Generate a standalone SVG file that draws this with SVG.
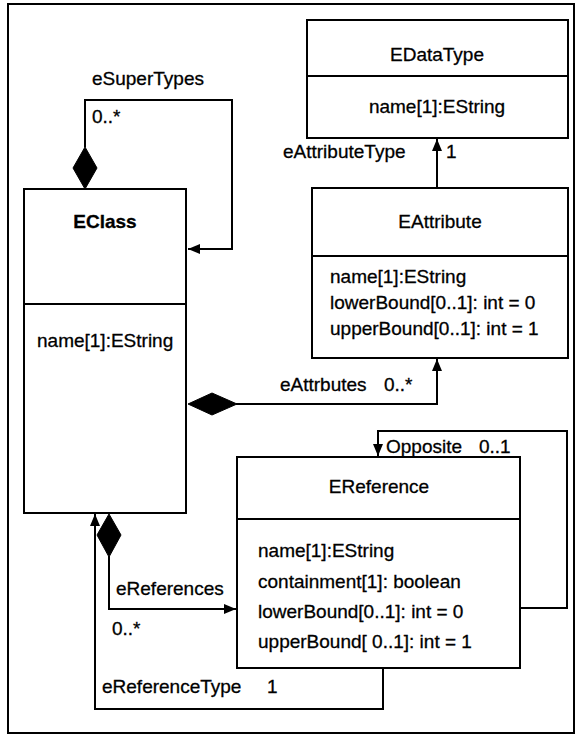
<svg xmlns="http://www.w3.org/2000/svg" width="583" height="736" viewBox="0 0 583 736">
<style>
.box{fill:#fff;stroke:#000;stroke-width:2}
.ln{fill:none;stroke:#000;stroke-width:2}
text{font-family:"Liberation Sans",Arial,sans-serif;font-size:19px;fill:#000;stroke:#000;stroke-width:0.3}
.t{text-anchor:middle}
.b{font-weight:bold}
.fill{fill:#000;stroke:#000;stroke-width:1}
</style>
<defs>
<marker id="arr" viewBox="0 0 12 10" refX="12" refY="5" markerWidth="12" markerHeight="10" markerUnits="userSpaceOnUse" orient="auto">
<path d="M0,0 L12,5 L0,10 Z" fill="#000"/>
</marker>
</defs>
<rect x="8" y="4" width="566" height="729" fill="#fff" stroke="#000" stroke-width="2"/>
<g id="EClass">
<rect class="box" x="24" y="189" width="162" height="324"/>
<line class="ln" x1="24" y1="304" x2="186" y2="304"/>
<text class="t b" x="105" y="228">EClass</text>
<text x="37" y="347">name[1]:EString</text>
</g>
<g id="EDataType">
<rect class="box" x="307" y="20" width="261" height="118"/>
<line class="ln" x1="307" y1="76" x2="568" y2="76"/>
<text class="t" x="437" y="61">EDataType</text>
<text class="t" x="437" y="113">name[1]:EString</text>
</g>
<g id="EAttribute">
<rect class="box" x="312" y="188" width="256" height="170"/>
<line class="ln" x1="312" y1="256" x2="568" y2="256"/>
<text class="t" x="440" y="228">EAttribute</text>
<text x="330" y="283">name[1]:EString</text>
<text x="330" y="309">lowerBound[0..1]: int = 0</text>
<text x="330" y="335">upperBound[0..1]: int = 1</text>
</g>
<g id="EReference">
<rect class="box" x="237" y="457" width="283" height="211"/>
<line class="ln" x1="237" y1="519" x2="520" y2="519"/>
<text class="t" x="379" y="493">EReference</text>
<text x="258" y="557">name[1]:EString</text>
<text x="258" y="588">containment[1]: boolean</text>
<text x="258" y="618">lowerBound[0..1]: int = 0</text>
<text x="258" y="648">upperBound[ 0..1]: int = 1</text>
</g>
<g id="connectors">
<path class="ln" d="M85,147 V100 H232 V249 H188" marker-end="url(#arr)"/>
<path class="fill" d="M85,189 L73,168 L85,147 L97,168 Z"/>
<text x="92" y="85">eSuperTypes</text>
<text x="92" y="123">0..*</text>
<path class="ln" d="M437,188 V139" marker-end="url(#arr)"/>
<text x="283" y="158">eAttributeType</text>
<text x="446" y="158">1</text>
<path class="ln" d="M236,404 H437 V359" marker-end="url(#arr)"/>
<path class="fill" d="M188,404 L212,393 L237,404 L212,415 Z"/>
<text x="280" y="391">eAttrbutes</text>
<text x="384" y="391">0..*</text>
<path class="ln" d="M520,608 H567 V431 H378 V456" marker-end="url(#arr)"/>
<text x="386" y="453">Opposite</text>
<text x="479" y="453">0..1</text>
<path class="ln" d="M109,556 V609 H236" marker-end="url(#arr)"/>
<path class="fill" d="M109,514 L121,535 L109,557 L97,535 Z"/>
<text x="116" y="595">eReferences</text>
<text x="112" y="635">0..*</text>
<path class="ln" d="M383,668 V709 H95 V514" marker-end="url(#arr)"/>
<text x="102" y="693">eReferenceType</text>
<text x="267" y="693">1</text>
</g>
</svg>
